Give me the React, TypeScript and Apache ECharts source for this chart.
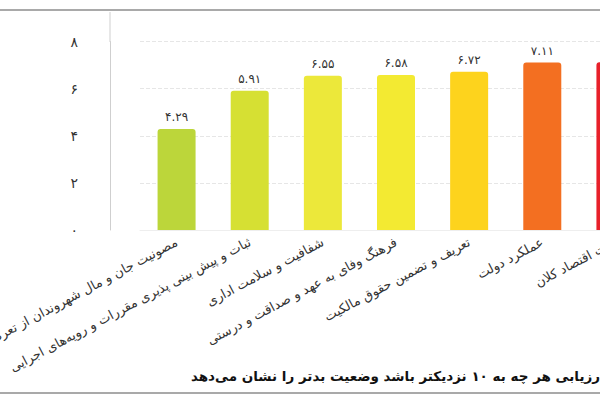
import React, { useEffect, useRef } from "react";
import * as echarts from "echarts";

const categories = [
  "مصونیت جان و مال شهروندان از تعرض",
  "ثبات و پیش بینی پذیری مقررات و رویه‌های اجرایی",
  "شفافیت و سلامت اداری",
  "فرهنگ وفای به عهد و صداقت و درستی",
  "تعریف و تضمین حقوق مالکیت",
  "عملکرد دولت",
  "ثبات اقتصاد کلان",
];
const values = [4.29, 5.91, 6.55, 6.58, 6.72, 7.11, 7.12];
const barColors = ["#bcd63a", "#d6e033", "#ece83a", "#f3ea32", "#fdd31d", "#f36f21", "#e8202a"];
const yMin = 0;
const yMax = 8;
const yInterval = 2;
const caption = "رزیابی هر چه به ۱۰ نزدیکتر باشد وضعیت بدتر را نشان می‌دهد";

const FA = "۰۱۲۳۴۵۶۷۸۹";
const fa = (s: string) => s.replace(/\d/g, (d) => FA[Number(d)]);
const FONT = "'DejaVu Sans', sans-serif";
const CHART_W = 652;

export default function App() {
  const ref = useRef<HTMLDivElement>(null);
  useEffect(() => {
    document.body.style.margin = "0";
    const chart = echarts.init(ref.current!, null, { renderer: "svg" });
    chart.setOption({
      animation: false,
      backgroundColor: "#ffffff",
      textStyle: { fontFamily: FONT },
      grid: {
        left: 140,
        right: 0,
        top: 41.6,
        bottom: 170,
        containLabel: false,
        outerBoundsMode: "none",
      },
      xAxis: {
        type: "category",
        data: categories,
        axisLine: { show: true, lineStyle: { color: "#eeeeee" } },
        axisTick: { show: false },
        axisLabel: {
          interval: 0,
          rotate: 28,
          margin: 11,
          fontSize: 13,
          color: "#333333",
          fontFamily: FONT,
        },
      },
      yAxis: {
        type: "value",
        min: yMin,
        max: yMax,
        interval: yInterval,
        offset: 30,
        axisLine: { show: true, lineStyle: { color: "#cfcfcf" } },
        axisTick: { show: false },
        axisLabel: {
          margin: 32,
          fontSize: 14,
          color: "#333333",
          fontFamily: FONT,
          formatter: (v: number) => fa(String(v)),
        },
        splitLine: { show: true, lineStyle: { color: "#e6e6e6", type: "dashed" } },
      },
      series: [
        {
          type: "bar",
          barWidth: 38,
          data: values.map((v, i) => ({ value: v, itemStyle: { color: barColors[i] } })),
          itemStyle: { borderRadius: [3, 3, 0, 0] },
          label: {
            show: true,
            position: "top",
            distance: 6,
            fontSize: 12,
            color: "#333333",
            fontFamily: FONT,
            formatter: (p: any) => fa(p.value.toFixed(2)),
          },
        },
      ],
      graphic: [
        { type: "line", shape: { x1: 0, y1: 10, x2: CHART_W, y2: 10 }, style: { stroke: "#8c8c8c", lineWidth: 1.5 } },
        { type: "line", shape: { x1: 0, y1: 393, x2: CHART_W, y2: 393 }, style: { stroke: "#8c8c8c", lineWidth: 1.5 } },
        { type: "line", shape: { x1: 110, y1: 12, x2: 110, y2: 42 }, style: { stroke: "#cfcfcf", lineWidth: 1 } },
        {
          type: "text",
          x: 600,
          y: 376,
          style: {
            text: caption,
            textAlign: "right",
            textVerticalAlign: "middle",
            font: "bold 13.5px 'DejaVu Sans', sans-serif",
            fill: "#111111",
          },
        },
      ],
    });
    return () => chart.dispose();
  }, []);
  return (
    <div style={{ width: 600, height: 400, overflow: "hidden", position: "relative" }}>
      <div ref={ref} style={{ width: CHART_W, height: 400 }} />
    </div>
  );
}
